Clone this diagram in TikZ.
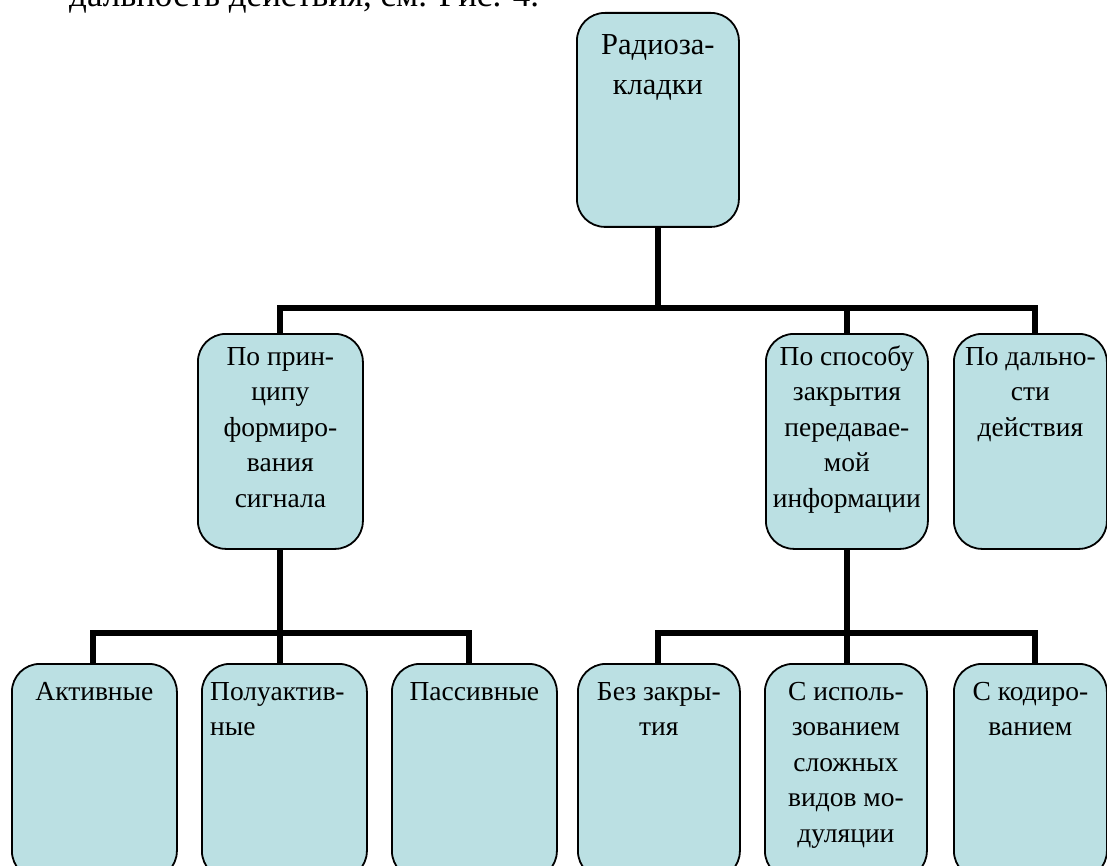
\documentclass[tikz,border=0pt]{standalone}
\usepackage{fontspec}
\setmainfont{Liberation Serif}
\definecolor{cardfill}{RGB}{187,224,227}
\begin{document}
\begin{tikzpicture}[x=1pt,y=-1pt,
  card/.style={draw=black, line width=1.8pt, fill=cardfill, rounded corners=28pt,
    inner sep=0pt, anchor=north west},
  lbl/.style={inner sep=0pt, anchor=base},
  link/.style={line width=6pt, line join=miter, line cap=butt}]
\useasboundingbox (0,0) rectangle (1107,866);
\clip (0,0) rectangle (1107,866);

% running text of the page above the chart
\node[inner sep=0pt, anchor=base west, font=\fontsize{35}{40}\selectfont] (page) at (69,7)
  {дальность действия, см. Рис. 4.};

% boxes
\node[card, minimum width=162pt, minimum height=214pt] (root) at (576,12) {};
\node[card, minimum width=165pt, minimum height=215pt] (pA) at (197,333) {};
\node[card, minimum width=162pt, minimum height=215pt] (pB) at (765,333) {};
\node[card, minimum width=153pt, minimum height=215pt] (pC) at (953,333) {};

\node[card, minimum width=165pt, minimum height=215pt] (a1) at (11,663) {};
\node[card, minimum width=165pt, minimum height=215pt] (a2) at (201,663) {};
\node[card, minimum width=165pt, minimum height=215pt] (a3) at (391,663) {};
\node[card, minimum width=162pt, minimum height=215pt] (b1) at (577,663) {};
\node[card, minimum width=162pt, minimum height=215pt] (b2) at (764,663) {};
\node[card, minimum width=153pt, minimum height=215pt] (b3) at (953,663) {};

% labels (first baseline a fixed distance below the top of each box)
\node[lbl] (rootT) at ([yshift=-43pt]root.north)
  {\parbox[t]{160pt}{\fontsize{30.5}{40}\selectfont\centering Радиоза-\\кладки}};
\node[lbl] (pAT) at ([yshift=-32pt]pA.north)
  {\parbox[t]{165pt}{\fontsize{27.5}{35.5}\selectfont\centering По прин-\\ципу\\формиро-\\вания\\сигнала}};
\node[lbl] (pBT) at ([yshift=-32pt]pB.north)
  {\parbox[t]{165pt}{\fontsize{27.5}{35.5}\selectfont\centering По способу\\закрытия\\передавае-\\мой\\информации}};
\node[lbl] (pCT) at ([yshift=-32pt]pC.north)
  {\parbox[t]{155pt}{\fontsize{27.5}{35.5}\selectfont\centering По дально-\\сти\\действия}};

\node[lbl] (a1T) at ([yshift=-37pt]a1.north)
  {\parbox[t]{165pt}{\fontsize{27.5}{35.5}\selectfont\centering Активные}};
\node[lbl, anchor=base west] (a2T) at ([xshift=9pt,yshift=-37pt]a2.north west)
  {\parbox[t]{160pt}{\fontsize{27.5}{35.5}\selectfont\raggedright Полуактив-\\ные}};
\node[lbl] (a3T) at ([yshift=-37pt]a3.north)
  {\parbox[t]{165pt}{\fontsize{27.5}{35.5}\selectfont\centering Пассивные}};
\node[lbl] (b1T) at ([yshift=-37pt]b1.north)
  {\parbox[t]{162pt}{\fontsize{27.5}{35.5}\selectfont\centering Без закры-\\тия}};
\node[lbl] (b2T) at ([yshift=-37pt]b2.north)
  {\parbox[t]{162pt}{\fontsize{27.5}{35.5}\selectfont\centering С исполь-\\зованием\\сложных\\видов мо-\\дуляции}};
\node[lbl] (b3T) at ([yshift=-37pt]b3.north)
  {\parbox[t]{160pt}{\fontsize{27.5}{35.5}\selectfont\centering С кодиро-\\ванием}};

% bus lines
\coordinate (busTop) at (0,308);
\coordinate (busA) at (0,633);
\coordinate (busB) at (0,633);

\draw[link] (root.south) -- (root.south |- busTop) -| (pA.north);
\draw[link] (root.south) -- (root.south |- busTop) -| (pB.north);
\draw[link] (root.south) -- (root.south |- busTop) -| ([xshift=5pt]pC.north);

\draw[link] (pA.south) -- (pA.south |- busA) -| ([xshift=-1pt]a1.north);
\draw[link] (pA.south) -- (pA.south |- busA) -| ([xshift=-4pt]a2.north);
\draw[link] (pA.south) -- (pA.south |- busA) -| ([xshift=-5pt]a3.north);

\draw[link] (pB.south) -- (pB.south |- busB) -| ([xshift=-1pt]b1.north);
\draw[link] (pB.south) -- (pB.south |- busB) -| ([xshift=1pt]b2.north);
\draw[link] (pB.south) -- (pB.south |- busB) -| ([xshift=5pt]b3.north);
\end{tikzpicture}
\end{document}
